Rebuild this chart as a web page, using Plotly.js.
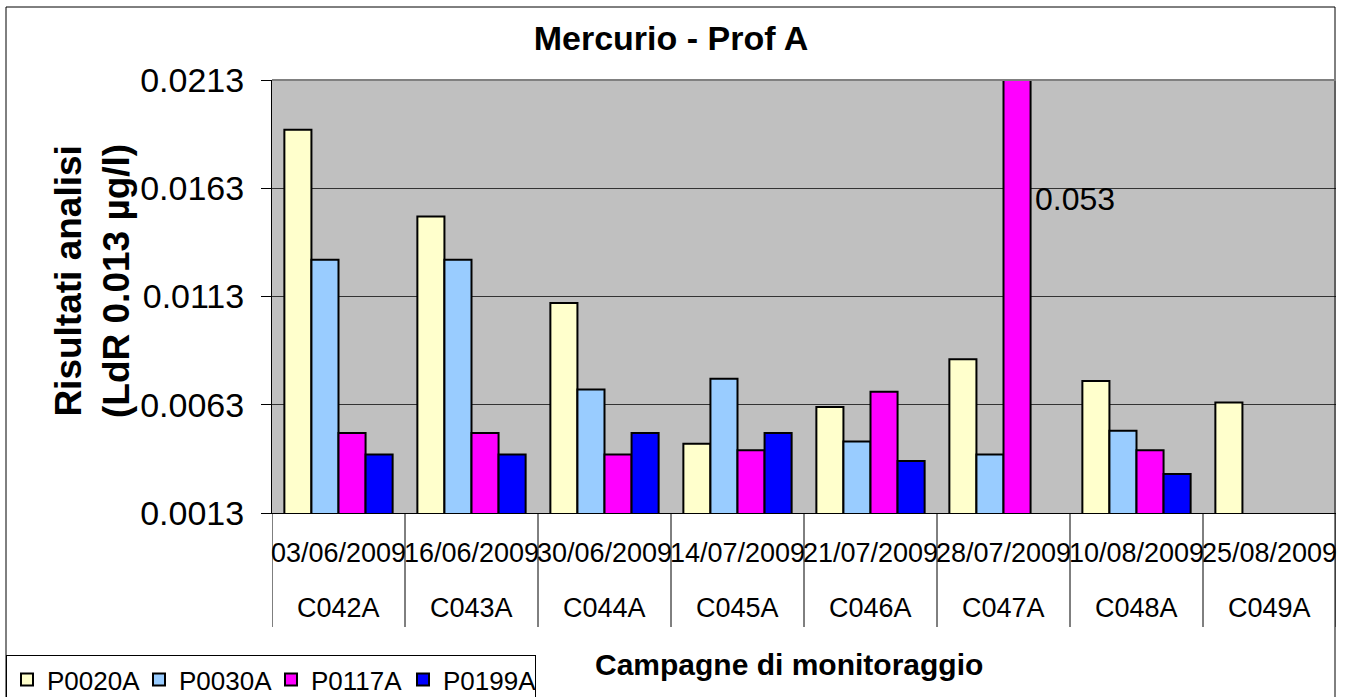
<!DOCTYPE html>
<html>
<head>
<meta charset="utf-8">
<script src="https://cdn.plot.ly/plotly-3.0.1.min.js"></script>
<style>
  body { margin: 0; background: #fff; }
  #mercfig { width: 1350px; height: 697px; }
</style>
</head>
<body>
<div id="mercfig"></div>
<script>
// campagne di monitoraggio
var campagne = ['C042A', 'C043A', 'C044A', 'C045A', 'C046A', 'C047A', 'C048A', 'C049A'];
var date_camp = ['03/06/2009', '16/06/2009', '30/06/2009', '14/07/2009', '21/07/2009', '28/07/2009', '10/08/2009', '25/08/2009'];

// risultati per punto (null = non rilevato)
var p0020a = [0.019, 0.015, 0.011, 0.0045, 0.0062, 0.0084, 0.0074, 0.0064];
var p0030a = [0.013, 0.013, 0.007, 0.0075, 0.0046, 0.004, 0.0051, null];
var p0117a = [0.005, 0.005, 0.004, 0.0042, 0.0069, 0.053, 0.0042, null];
var p0199a = [0.004, 0.004, 0.005, 0.005, 0.0037, null, 0.0031, null];

var yticks = [0.0013, 0.0063, 0.0113, 0.0163, 0.0213];
var ytext = ['0.0013', '0.0063', '0.0113', '0.0163', '0.0213'];

var FONT = 'Arial, "Liberation Sans", sans-serif';

// margini del grafico in pixel
var W = 1350, H = 697;
var mL = 272, mR = 14, mT = 80, mB = 184;
function px2x(px) { return (px - mL) / (W - mL - mR); }
function px2y(py) { return (H - mB - py) / (H - mT - mB); }

function myfig_mercurio() {
  var xpos = campagne.map(function (c, i) { return i; });
  function serie(nome, y, col) {
    return { type: 'bar', x: xpos, y: y, name: nome,
             marker: { color: col, line: { color: '#000', width: 2 } },
             hoverinfo: 'y+name' };
  }
  var data = [
    serie('P0020A', p0020a, '#FFFFCC'),
    serie('P0030A', p0030a, '#99CCFF'),
    serie('P0117A', p0117a, '#FF00FF'),
    serie('P0199A', p0199a, '#0000FF')
  ];

  // valore fuori scala
  var fuori = p0117a.filter(function (v) { return v !== null; });
  var vmax = Math.max.apply(null, fuori);

  var annotations = [{
    xref: 'paper', yref: 'paper',
    x: px2x(1033), y: px2y(199), xanchor: 'left', yanchor: 'middle',
    text: String(vmax), showarrow: false,
    font: { size: 32, family: FONT, color: '#000' }
  }, {
    // titolo asse y
    xref: 'paper', yref: 'paper', x: px2x(92), y: px2y(281),
    xanchor: 'center', yanchor: 'middle', textangle: -90, showarrow: false,
    text: '<b>Risultati analisi<br>(LdR 0.013 µg/l)</b>',
    font: { size: 37, family: FONT, color: '#000' }
  }, {
    // titolo asse x
    xref: 'paper', yref: 'paper', x: px2x(789), y: px2y(664),
    xanchor: 'center', yanchor: 'middle', showarrow: false,
    text: '<b>Campagne di monitoraggio</b>',
    font: { size: 30, family: FONT, color: '#000' }
  }];
  // secondo livello: codice campagna
  campagne.forEach(function (c, i) {
    annotations.push({ xref: 'x', yref: 'paper', x: i, y: px2y(608),
      xanchor: 'center', yanchor: 'middle', showarrow: false, text: c,
      font: { size: 27, family: FONT, color: '#000' } });
  });

  var shapes = [
    // cornice del grafico
    { type: 'rect', xref: 'paper', yref: 'paper',
      x0: px2x(6), x1: px2x(1335), y0: px2y(7), y1: px2y(705),
      line: { color: '#000', width: 1 }, fillcolor: 'rgba(0,0,0,0)', layer: 'above' },
    // bordo superiore dell'area
    { type: 'line', xref: 'paper', yref: 'paper', x0: 0, x1: 1, y0: 1, y1: 1,
      line: { color: '#808080', width: 2 } }
  ];
  // divisori tra le campagne
  for (var i = 0; i <= campagne.length; i++) {
    shapes.push({ type: 'line', xref: 'x', yref: 'paper', x0: i - 0.5, x1: i - 0.5,
      y0: 0, y1: px2y(627), line: { color: '#000', width: 1 } });
  }

  var layout = {
    width: W, height: H,
    margin: { l: mL, r: mR, t: mT, b: mB, pad: 0 },
    paper_bgcolor: '#fff',
    plot_bgcolor: '#C0C0C0',
    font: { family: FONT, color: '#000' },
    title: { text: '<b>Mercurio - Prof A</b>', font: { size: 34, family: FONT },
             xref: 'container', x: 0.497, yref: 'container', y: 1 - 38 / H, yanchor: 'middle' },
    barmode: 'group',
    bargap: 0.186,
    bargroupgap: 0,
    showlegend: true,
    legend: {
      orientation: 'h', xref: 'container', yref: 'container',
      x: 6 / W, y: 1 - 655 / H, xanchor: 'left', yanchor: 'top',
      bgcolor: '#fff', bordercolor: '#000', borderwidth: 1,
      font: { size: 26, family: FONT }, entrywidth: 87, entrywidthmode: 'pixels',
      traceorder: 'normal'
    },
    xaxis: {
      type: 'linear', range: [-0.5, campagne.length - 0.5],
      tickvals: xpos, ticktext: date_camp, tickangle: 0,
      tickfont: { size: 27, family: FONT },
      ticks: '', ticklabelstandoff: 16,
      showline: true, linecolor: '#000', linewidth: 1,
      showgrid: false, zeroline: false, fixedrange: true
    },
    yaxis: {
      range: [0.0013, 0.0213],
      tickvals: yticks, ticktext: ytext,
      tickfont: { size: 34, family: FONT },
      ticks: 'outside', ticklen: 10, tickcolor: '#000', tickwidth: 1,
      ticklabelstandoff: 10,
      showline: true, linecolor: '#000', linewidth: 1,
      showgrid: true, gridcolor: '#333', gridwidth: 1,
      zeroline: false, fixedrange: true
    },
    annotations: annotations,
    shapes: shapes
  };

  Plotly.newPlot('mercfig', data, layout, { displayModeBar: false, staticPlot: true });
}
myfig_mercurio();
</script>
</body>
</html>
